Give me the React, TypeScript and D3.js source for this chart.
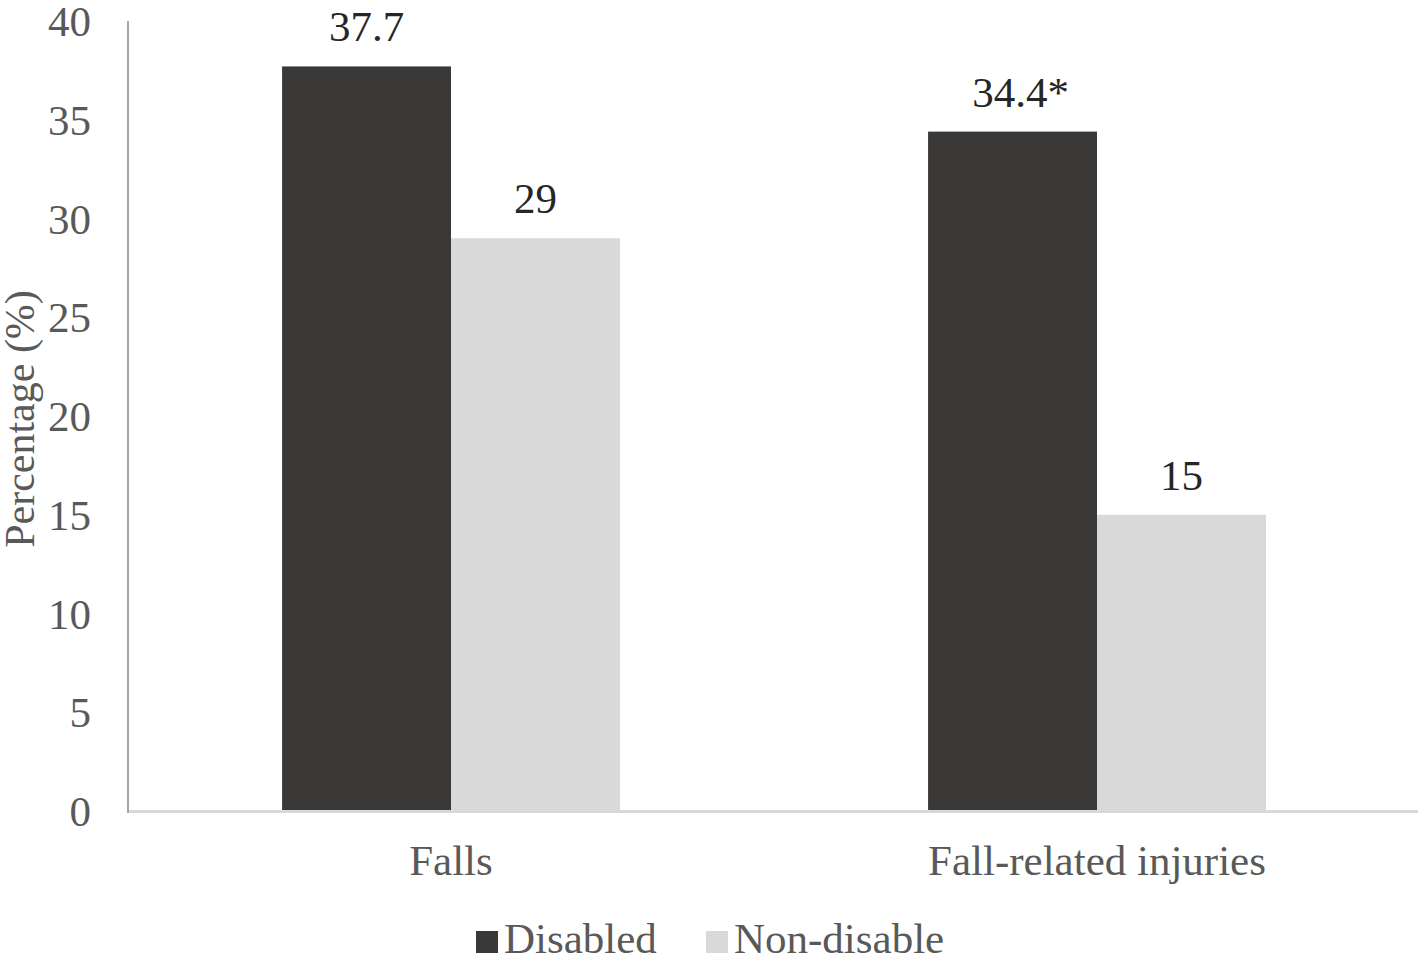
import React, { useEffect, useRef } from 'react';
import * as d3 from 'd3';

const categories = ['Falls', 'Fall-related injuries'];
const seriesNames = ['Disabled', 'Non-disable'];
const disabledValues = [37.7, 34.4];
const nonDisabledValues = [29, 15];
const valueLabels = [['37.7', '29'], ['34.4*', '15']];
const yTicks = [0, 5, 10, 15, 20, 25, 30, 35, 40];
const colors = ['#3a3938', '#d9d9d9'];

const W = 1424, H = 956;

export default function App() {
  const ref = useRef<SVGSVGElement>(null);

  useEffect(() => {
    const svg = d3.select(ref.current);
    svg.selectAll('*').remove();
    const margin = { top: 21, right: 4, bottom: 145, left: 128 };
    const font = '"Liberation Serif", "Times New Roman", serif';
    const txt = '#595959';

    const x0 = d3.scaleBand<string>()
      .domain(categories)
      .range([margin.left, W - margin.right])
      .paddingInner(0.477)
      .paddingOuter(0.2385);
    const x1 = d3.scaleBand<string>()
      .domain(seriesNames)
      .range([0, x0.bandwidth()]);
    const y = d3.scaleLinear().domain([0, 40]).range([H - margin.bottom, margin.top]);

    const g = svg.append('g');

    // bars + value labels
    categories.forEach((c, i) => {
      const vals = [disabledValues[i], nonDisabledValues[i]];
      seriesNames.forEach((s, j) => {
        const bx = x0(c)! + x1(s)!;
        g.append('rect')
          .attr('x', bx)
          .attr('y', y(vals[j]))
          .attr('width', x1.bandwidth())
          .attr('height', y(0) - y(vals[j]))
          .attr('fill', colors[j]);
        const lbl = valueLabels[i][j];
        g.append('text')
          .attr('x', bx + x1.bandwidth() / 2 + (lbl.endsWith('*') ? 8 : 0))
          .attr('y', y(vals[j]) - 25)
          .attr('text-anchor', 'middle')
          .attr('font-family', font)
          .attr('font-size', 43)
          .attr('fill', '#262626')
          .text(lbl);
      });
    });

    // axis lines
    g.append('line')
      .attr('x1', margin.left).attr('x2', W - 6)
      .attr('y1', y(0) + 0.5).attr('y2', y(0) + 0.5)
      .attr('stroke', '#d9d9d9').attr('stroke-width', 3);
    g.append('line')
      .attr('x1', margin.left).attr('x2', margin.left)
      .attr('y1', y(40)).attr('y2', y(0) + 2)
      .attr('stroke', '#a6a6a6').attr('stroke-width', 2);

    // y tick labels
    g.selectAll('.yt')
      .data(yTicks)
      .enter()
      .append('text')
      .attr('x', 91)
      .attr('y', d => y(d))
      .attr('dy', '0.35em')
      .attr('text-anchor', 'end')
      .attr('font-family', font)
      .attr('font-size', 43)
      .attr('fill', txt)
      .text(d => d);

    // y title
    g.append('text')
      .attr('transform', `translate(34,${(y(0) + y(40)) / 2 + 3}) rotate(-90)`)
      .attr('text-anchor', 'middle')
      .attr('font-family', font)
      .attr('font-size', 42)
      .attr('fill', txt)
      .text('Percentage (%)');

    // category labels
    g.selectAll('.xt')
      .data(categories)
      .enter()
      .append('text')
      .attr('x', d => x0(d)! + x0.bandwidth() / 2)
      .attr('y', 875)
      .attr('text-anchor', 'middle')
      .attr('font-family', font)
      .attr('font-size', 43)
      .attr('fill', txt)
      .text(d => d);

    // legend
    const legendX = [476, 706];
    seriesNames.forEach((s, j) => {
      g.append('rect')
        .attr('x', legendX[j]).attr('y', 931)
        .attr('width', 22).attr('height', 22)
        .attr('fill', colors[j]);
      g.append('text')
        .attr('x', legendX[j] + 28)
        .attr('y', 953)
        .attr('font-family', font)
        .attr('font-size', 43)
        .attr('fill', txt)
        .text(s);
    });
  }, []);

  return (
    <svg ref={ref} width={W} height={H} style={{ position: 'absolute', left: 0, top: 0, background: '#fff' }} />
  );
}
